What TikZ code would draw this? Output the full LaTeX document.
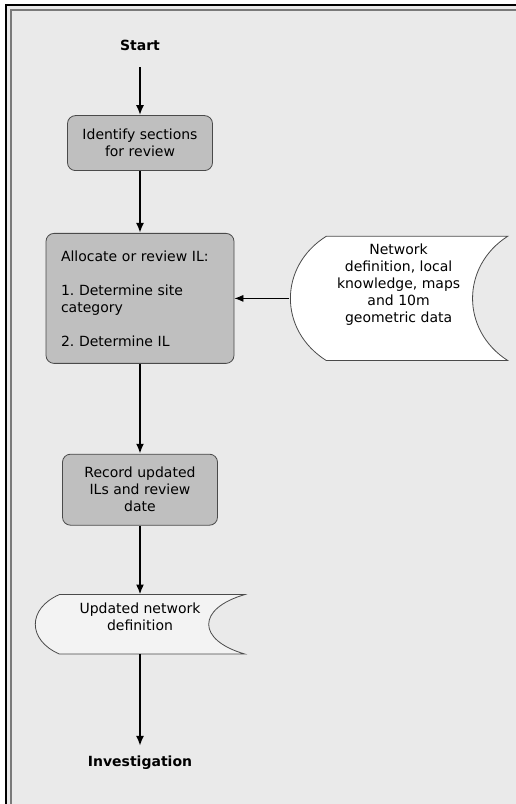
\documentclass[tikz,border=0pt]{standalone}
\usepackage{fontspec}
\setmainfont{DejaVu Sans}
\usepackage{xcolor}
\usepackage{tikz}
\usetikzlibrary{arrows.meta,positioning,backgrounds}

\definecolor{paper}{HTML}{EAEAEA}
\definecolor{boxgray}{HTML}{BFBFBF}
\definecolor{boxline}{HTML}{4A4A4A}
\definecolor{framegray}{HTML}{7A7A7A}
\definecolor{storefill}{HTML}{F3F3F3}

\begin{document}
\frenchspacing
\fontsize{14}{17}\selectfont
\begin{tikzpicture}[x=1pt, y=1pt, node distance=48pt,
    process/.style={draw=boxline, fill=boxgray, line width=0.8pt, rounded corners=8pt, align=center, inner sep=0pt},
    terminal/.style={font=\bfseries, inner sep=0pt},
    datastore/.style={inner sep=0pt},
    storeline/.style={draw=boxline, line width=0.8pt},
    flow/.style={-{Latex[length=10pt,width=8pt]}, line width=2.2pt},
    feed/.style={-{Latex[length=9pt,width=7pt]}, line width=0.8pt}]
  \useasboundingbox (0,0) rectangle (516,804);
  \clip (0,0) rectangle (516,804);

  \node[terminal, minimum height=44pt] (start) at (140,759) {Start};
  \node[process, minimum width=145pt, minimum height=55pt, below=48pt of start] (identify) {Identify sections\\for review};
  \node[process, minimum width=188pt, minimum height=130pt, text width=158pt, inner xsep=15pt, align=left, below=62pt of identify] (allocate) {
    Allocate or review IL:\\[17pt]
    1. Determine site\\
    category\\[17pt]
    2. Determine IL};
  \node[datastore, minimum width=218pt, minimum height=124pt, right=55pt of allocate] (netdata) {
    \raisebox{13pt}[\height][\depth]{\begin{tabular}{@{}c@{}}
    Network\\
    definition, local\\
    knowledge, maps\\
    and 10m\\
    geometric data
    \end{tabular}}};
  \node[process, minimum width=155pt, minimum height=71pt, below=90pt of allocate] (record) {Record updated\\ILs and review\\date};
  \node[datastore, minimum width=209pt, minimum height=59pt, below=69pt of record] (updated) {
    \raisebox{6pt}[\height][\depth]{\begin{tabular}{@{}c@{}}
    Updated network\\
    definition
    \end{tabular}}};
  \node[terminal, minimum height=32pt, below=92pt of updated] (invest) {Investigation};

  % paper, frame and data symbols behind the text
  \begin{pgfonlayer}{background}
    \fill[white] (0,0) rectangle (516,804);
    \fill[paper] (6,0) rectangle (516,799);
    \draw[line width=2pt] (6,-5) -- (6,799) -- (530,799);
    \draw[framegray, line width=1.4pt] (11,-5) -- (11,794) -- (530,794);
    \path[storeline, fill=white] ([xshift=37pt]netdata.north west) -- (netdata.north east)
      .. controls +(-47,-30) and +(-47,30) .. (netdata.south east)
      -- ([xshift=37pt]netdata.south west)
      .. controls +(-48,30) and +(-48,-30) .. ([xshift=37pt]netdata.north west) -- cycle;
    \path[storeline, fill=storefill] ([xshift=24pt]updated.north west) -- (updated.north east)
      .. controls +(-48,-14) and +(-48,14) .. (updated.south east)
      -- ([xshift=24pt]updated.south west)
      .. controls +(-32,14) and +(-32,-14) .. ([xshift=24pt]updated.north west) -- cycle;
  \end{pgfonlayer}

  \draw[flow] (start) -- (identify);
  \draw[flow] (identify) -- (allocate);
  \draw[feed] (netdata.west) -- (netdata.west -| allocate.east);
  \draw[flow] (allocate) -- (record);
  \draw[flow] (record) -- (updated);
  \draw[flow] (updated) -- (invest);
\end{tikzpicture}
\end{document}
